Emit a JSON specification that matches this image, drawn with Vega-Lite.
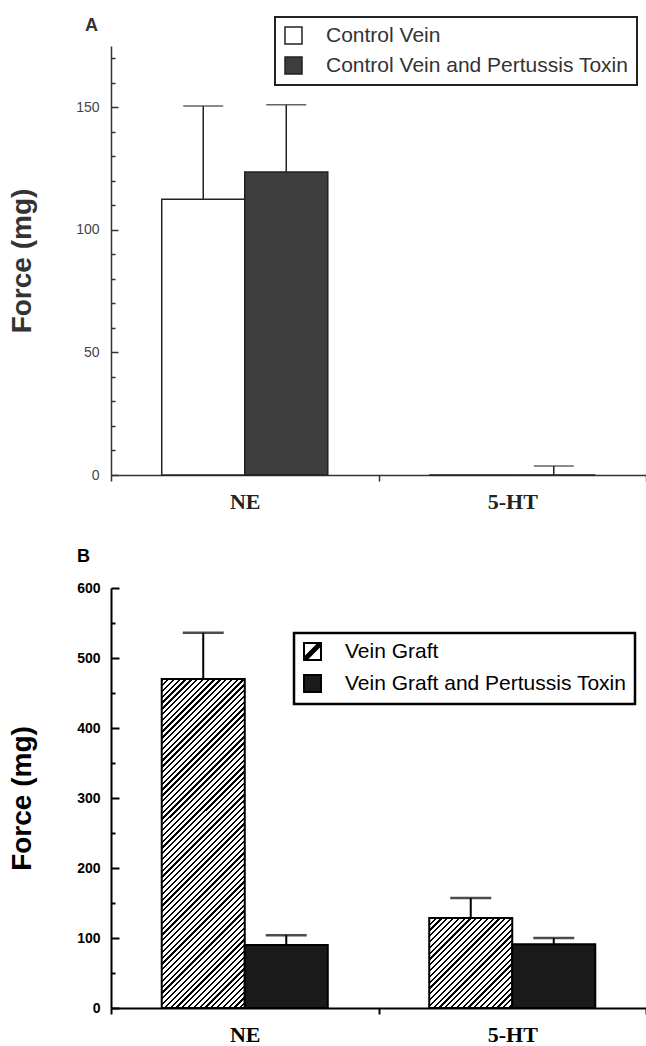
{
"$schema":"https://vega.github.io/schema/vega-lite/v6.json",
"padding":{"left":8,"top":16,"right":0,"bottom":0},
"spacing":36,
"config":{"view":{"stroke":null},"font":"Liberation Sans","axis":{"grid":false,"labelOverlap":false}},
"resolve":{"scale":{"fill":"independent","xOffset":"independent"},"legend":{"fill":"independent"}},
"vconcat":[
{
"width":535,"height":429,
"title":{"text":"A","anchor":"start","frame":"group","dx":-26,"offset":-33,"baseline":"alphabetic","font":"Liberation Sans","fontSize":18,"fontWeight":"bold","color":"#333"},
"data":{"values":[
{"agent":"NE","group":"Control Vein","force":112.5,"upper":150.5},
{"agent":"NE","group":"Control Vein and Pertussis Toxin","force":123.6,"upper":151},
{"agent":"5-HT","group":"Control Vein","force":0,"upper":null},
{"agent":"5-HT","group":"Control Vein and Pertussis Toxin","force":0,"upper":3.7}
]},
"encoding":{
"x":{"field":"agent","type":"nominal","scale":{"domain":["NE","5-HT"],"paddingInner":0,"paddingOuter":0},
"axis":{"title":null,"labelAngle":0,"labelFont":"Liberation Serif","labelFontSize":22,"labelFontWeight":"bold","labelColor":"#222","labelPadding":10,"tickBand":"extent","tickSize":6,"tickColor":"#333","tickWidth":1.5,"domainColor":"#333","domainWidth":1.5}},
"xOffset":{"field":"group","type":"nominal","scale":{"domain":["Control Vein","Control Vein and Pertussis Toxin"],"paddingInner":0,"paddingOuter":0.611}}
},
"layer":[
{"mark":{"type":"bar","stroke":"#222","strokeWidth":1.5},
"encoding":{
"y":{"field":"force","type":"quantitative","title":"Force (mg)","scale":{"domain":[0,175],"nice":false},
"axis":{"values":[0,10,20,30,40,50,60,70,80,90,100,110,120,130,140,150,160,170],"tickCount":100,"labelOverlap":false,"labelOpacity":{"condition":{"test":"datum.value % 50 !== 0","value":0},"value":1},"tickSize":{"condition":{"test":"datum.value % 50 === 0","value":-7},"value":-4},"labelPadding":19,"labelFont":"Liberation Sans","labelFontSize":14,"labelColor":"#444","tickColor":"#333","tickWidth":1.5,"domainColor":"#333","domainWidth":1.5,"titleFont":"Liberation Sans","titleFontSize":28,"titleFontWeight":"bold","titleColor":"#333","titleX":-89,"titleBaseline":"middle"}},
"fill":{"field":"group","type":"nominal","scale":{"domain":["Control Vein","Control Vein and Pertussis Toxin"],"range":["#ffffff","#3d3d3d"]},
"legend":{"title":null,"orient":"none","legendX":164,"legendY":-29,"direction":"vertical","symbolType":"square","symbolSize":289,"symbolStrokeColor":"#222","symbolStrokeWidth":1.5,"labelFont":"Liberation Sans","labelFontSize":21,"labelColor":"#333","labelOffset":22,"labelLimit":400,"padding":8,"rowPadding":7,"strokeColor":"#222","fillColor":"#ffffff","encode":{"legend":{"update":{"strokeWidth":{"value":2}}}}}}
}},
{"transform":[{"filter":"datum.upper != null"}],"mark":{"type":"rule","stroke":"#222","strokeWidth":1.5},
"encoding":{"y":{"field":"force","type":"quantitative","title":"Force (mg)"},"y2":{"field":"upper"}}},
{"transform":[{"filter":"datum.upper != null"}],"mark":{"type":"tick","color":"#222","thickness":1.5,"size":40},
"encoding":{"y":{"field":"upper","type":"quantitative","title":"Force (mg)"}}}
]
},
{
"width":535,"height":420,
"title":{"text":"B","anchor":"start","frame":"group","dx":-34,"offset":1,"baseline":"alphabetic","font":"Liberation Sans","fontSize":18,"fontWeight":"bold","color":"#000"},
"data":{"values":[
{"agent":"NE","group":"Vein Graft","force":470,"upper":536},
{"agent":"NE","group":"Vein Graft and Pertussis Toxin","force":90,"upper":104},
{"agent":"5-HT","group":"Vein Graft","force":128.5,"upper":157},
{"agent":"5-HT","group":"Vein Graft and Pertussis Toxin","force":91,"upper":100}
]},
"encoding":{
"x":{"field":"agent","type":"nominal","scale":{"domain":["NE","5-HT"],"paddingInner":0,"paddingOuter":0},
"axis":{"title":null,"labelAngle":0,"labelFont":"Liberation Serif","labelFontSize":22,"labelFontWeight":"bold","labelColor":"#000","labelPadding":10,"tickBand":"extent","tickSize":6,"tickColor":"#000","tickWidth":2,"domainColor":"#000","domainWidth":2}},
"xOffset":{"field":"group","type":"nominal","scale":{"domain":["Vein Graft","Vein Graft and Pertussis Toxin"],"paddingInner":0,"paddingOuter":0.611}}
},
"layer":[
{"mark":{"type":"bar","stroke":"#000","strokeWidth":2},
"encoding":{
"y":{"field":"force","type":"quantitative","title":"Force (mg)","scale":{"domain":[0,600],"nice":false},
"axis":{"values":[0,50,100,150,200,250,300,350,400,450,500,550,600],"tickCount":100,"labelOverlap":false,"labelOpacity":{"condition":{"test":"datum.value % 100 !== 0","value":0},"value":1},"tickSize":{"condition":{"test":"datum.value % 100 === 0","value":-8},"value":-4},"labelPadding":19,"labelFont":"Liberation Sans","labelFontSize":14,"labelFontWeight":"bold","labelColor":"#000","tickColor":"#000","tickWidth":2,"domainColor":"#000","domainWidth":2,"titleFont":"Liberation Sans","titleFontSize":28,"titleFontWeight":"bold","titleColor":"#000","titleX":-89,"titleBaseline":"middle"}},
"fill":{"field":"group","type":"nominal","scale":{"domain":["Vein Graft","Vein Graft and Pertussis Toxin"],"range":["#ffffff","#1a1a1a"]},
"condition":[
{"test":"datum.agent === 'NE' && datum.group === 'Vein Graft'","value":{"gradient":"linear","x1":0,"y1":0,"x2":0.3344,"y2":1.3255,"stops":[
{"offset":0,"color":"#000"},{"offset":0.005,"color":"#000"},{"offset":0.005,"color":"#fff"},{"offset":0.0125,"color":"#fff"},
{"offset":0.0125,"color":"#000"},{"offset":0.0175,"color":"#000"},{"offset":0.0175,"color":"#fff"},{"offset":0.025,"color":"#fff"},
{"offset":0.025,"color":"#000"},{"offset":0.03,"color":"#000"},{"offset":0.03,"color":"#fff"},{"offset":0.0375,"color":"#fff"},
{"offset":0.0375,"color":"#000"},{"offset":0.0425,"color":"#000"},{"offset":0.0425,"color":"#fff"},{"offset":0.05,"color":"#fff"},
{"offset":0.05,"color":"#000"},{"offset":0.055,"color":"#000"},{"offset":0.055,"color":"#fff"},{"offset":0.0625,"color":"#fff"},
{"offset":0.0625,"color":"#000"},{"offset":0.0675,"color":"#000"},{"offset":0.0675,"color":"#fff"},{"offset":0.075,"color":"#fff"},
{"offset":0.075,"color":"#000"},{"offset":0.08,"color":"#000"},{"offset":0.08,"color":"#fff"},{"offset":0.0875,"color":"#fff"},
{"offset":0.0875,"color":"#000"},{"offset":0.0925,"color":"#000"},{"offset":0.0925,"color":"#fff"},{"offset":0.1,"color":"#fff"},
{"offset":0.1,"color":"#000"},{"offset":0.105,"color":"#000"},{"offset":0.105,"color":"#fff"},{"offset":0.1125,"color":"#fff"},
{"offset":0.1125,"color":"#000"},{"offset":0.1175,"color":"#000"},{"offset":0.1175,"color":"#fff"},{"offset":0.125,"color":"#fff"},
{"offset":0.125,"color":"#000"},{"offset":0.13,"color":"#000"},{"offset":0.13,"color":"#fff"},{"offset":0.1375,"color":"#fff"},
{"offset":0.1375,"color":"#000"},{"offset":0.1425,"color":"#000"},{"offset":0.1425,"color":"#fff"},{"offset":0.15,"color":"#fff"},
{"offset":0.15,"color":"#000"},{"offset":0.155,"color":"#000"},{"offset":0.155,"color":"#fff"},{"offset":0.1625,"color":"#fff"},
{"offset":0.1625,"color":"#000"},{"offset":0.1675,"color":"#000"},{"offset":0.1675,"color":"#fff"},{"offset":0.175,"color":"#fff"},
{"offset":0.175,"color":"#000"},{"offset":0.18,"color":"#000"},{"offset":0.18,"color":"#fff"},{"offset":0.1875,"color":"#fff"},
{"offset":0.1875,"color":"#000"},{"offset":0.1925,"color":"#000"},{"offset":0.1925,"color":"#fff"},{"offset":0.2,"color":"#fff"},
{"offset":0.2,"color":"#000"},{"offset":0.205,"color":"#000"},{"offset":0.205,"color":"#fff"},{"offset":0.2125,"color":"#fff"},
{"offset":0.2125,"color":"#000"},{"offset":0.2175,"color":"#000"},{"offset":0.2175,"color":"#fff"},{"offset":0.225,"color":"#fff"},
{"offset":0.225,"color":"#000"},{"offset":0.23,"color":"#000"},{"offset":0.23,"color":"#fff"},{"offset":0.2375,"color":"#fff"},
{"offset":0.2375,"color":"#000"},{"offset":0.2425,"color":"#000"},{"offset":0.2425,"color":"#fff"},{"offset":0.25,"color":"#fff"},
{"offset":0.25,"color":"#000"},{"offset":0.255,"color":"#000"},{"offset":0.255,"color":"#fff"},{"offset":0.2625,"color":"#fff"},
{"offset":0.2625,"color":"#000"},{"offset":0.2675,"color":"#000"},{"offset":0.2675,"color":"#fff"},{"offset":0.275,"color":"#fff"},
{"offset":0.275,"color":"#000"},{"offset":0.28,"color":"#000"},{"offset":0.28,"color":"#fff"},{"offset":0.2875,"color":"#fff"},
{"offset":0.2875,"color":"#000"},{"offset":0.2925,"color":"#000"},{"offset":0.2925,"color":"#fff"},{"offset":0.3,"color":"#fff"},
{"offset":0.3,"color":"#000"},{"offset":0.305,"color":"#000"},{"offset":0.305,"color":"#fff"},{"offset":0.3125,"color":"#fff"},
{"offset":0.3125,"color":"#000"},{"offset":0.3175,"color":"#000"},{"offset":0.3175,"color":"#fff"},{"offset":0.325,"color":"#fff"},
{"offset":0.325,"color":"#000"},{"offset":0.33,"color":"#000"},{"offset":0.33,"color":"#fff"},{"offset":0.3375,"color":"#fff"},
{"offset":0.3375,"color":"#000"},{"offset":0.3425,"color":"#000"},{"offset":0.3425,"color":"#fff"},{"offset":0.35,"color":"#fff"},
{"offset":0.35,"color":"#000"},{"offset":0.355,"color":"#000"},{"offset":0.355,"color":"#fff"},{"offset":0.3625,"color":"#fff"},
{"offset":0.3625,"color":"#000"},{"offset":0.3675,"color":"#000"},{"offset":0.3675,"color":"#fff"},{"offset":0.375,"color":"#fff"},
{"offset":0.375,"color":"#000"},{"offset":0.38,"color":"#000"},{"offset":0.38,"color":"#fff"},{"offset":0.3875,"color":"#fff"},
{"offset":0.3875,"color":"#000"},{"offset":0.3925,"color":"#000"},{"offset":0.3925,"color":"#fff"},{"offset":0.4,"color":"#fff"},
{"offset":0.4,"color":"#000"},{"offset":0.405,"color":"#000"},{"offset":0.405,"color":"#fff"},{"offset":0.4125,"color":"#fff"},
{"offset":0.4125,"color":"#000"},{"offset":0.4175,"color":"#000"},{"offset":0.4175,"color":"#fff"},{"offset":0.425,"color":"#fff"},
{"offset":0.425,"color":"#000"},{"offset":0.43,"color":"#000"},{"offset":0.43,"color":"#fff"},{"offset":0.4375,"color":"#fff"},
{"offset":0.4375,"color":"#000"},{"offset":0.4425,"color":"#000"},{"offset":0.4425,"color":"#fff"},{"offset":0.45,"color":"#fff"},
{"offset":0.45,"color":"#000"},{"offset":0.455,"color":"#000"},{"offset":0.455,"color":"#fff"},{"offset":0.4625,"color":"#fff"},
{"offset":0.4625,"color":"#000"},{"offset":0.4675,"color":"#000"},{"offset":0.4675,"color":"#fff"},{"offset":0.475,"color":"#fff"},
{"offset":0.475,"color":"#000"},{"offset":0.48,"color":"#000"},{"offset":0.48,"color":"#fff"},{"offset":0.4875,"color":"#fff"},
{"offset":0.4875,"color":"#000"},{"offset":0.4925,"color":"#000"},{"offset":0.4925,"color":"#fff"},{"offset":0.5,"color":"#fff"},
{"offset":0.5,"color":"#000"},{"offset":0.505,"color":"#000"},{"offset":0.505,"color":"#fff"},{"offset":0.5125,"color":"#fff"},
{"offset":0.5125,"color":"#000"},{"offset":0.5175,"color":"#000"},{"offset":0.5175,"color":"#fff"},{"offset":0.525,"color":"#fff"},
{"offset":0.525,"color":"#000"},{"offset":0.53,"color":"#000"},{"offset":0.53,"color":"#fff"},{"offset":0.5375,"color":"#fff"},
{"offset":0.5375,"color":"#000"},{"offset":0.5425,"color":"#000"},{"offset":0.5425,"color":"#fff"},{"offset":0.55,"color":"#fff"},
{"offset":0.55,"color":"#000"},{"offset":0.555,"color":"#000"},{"offset":0.555,"color":"#fff"},{"offset":0.5625,"color":"#fff"},
{"offset":0.5625,"color":"#000"},{"offset":0.5675,"color":"#000"},{"offset":0.5675,"color":"#fff"},{"offset":0.575,"color":"#fff"},
{"offset":0.575,"color":"#000"},{"offset":0.58,"color":"#000"},{"offset":0.58,"color":"#fff"},{"offset":0.5875,"color":"#fff"},
{"offset":0.5875,"color":"#000"},{"offset":0.5925,"color":"#000"},{"offset":0.5925,"color":"#fff"},{"offset":0.6,"color":"#fff"},
{"offset":0.6,"color":"#000"},{"offset":0.605,"color":"#000"},{"offset":0.605,"color":"#fff"},{"offset":0.6125,"color":"#fff"},
{"offset":0.6125,"color":"#000"},{"offset":0.6175,"color":"#000"},{"offset":0.6175,"color":"#fff"},{"offset":0.625,"color":"#fff"},
{"offset":0.625,"color":"#000"},{"offset":0.63,"color":"#000"},{"offset":0.63,"color":"#fff"},{"offset":0.6375,"color":"#fff"},
{"offset":0.6375,"color":"#000"},{"offset":0.6425,"color":"#000"},{"offset":0.6425,"color":"#fff"},{"offset":0.65,"color":"#fff"},
{"offset":0.65,"color":"#000"},{"offset":0.655,"color":"#000"},{"offset":0.655,"color":"#fff"},{"offset":0.6625,"color":"#fff"},
{"offset":0.6625,"color":"#000"},{"offset":0.6675,"color":"#000"},{"offset":0.6675,"color":"#fff"},{"offset":0.675,"color":"#fff"},
{"offset":0.675,"color":"#000"},{"offset":0.68,"color":"#000"},{"offset":0.68,"color":"#fff"},{"offset":0.6875,"color":"#fff"},
{"offset":0.6875,"color":"#000"},{"offset":0.6925,"color":"#000"},{"offset":0.6925,"color":"#fff"},{"offset":0.7,"color":"#fff"},
{"offset":0.7,"color":"#000"},{"offset":0.705,"color":"#000"},{"offset":0.705,"color":"#fff"},{"offset":0.7125,"color":"#fff"},
{"offset":0.7125,"color":"#000"},{"offset":0.7175,"color":"#000"},{"offset":0.7175,"color":"#fff"},{"offset":0.725,"color":"#fff"},
{"offset":0.725,"color":"#000"},{"offset":0.73,"color":"#000"},{"offset":0.73,"color":"#fff"},{"offset":0.7375,"color":"#fff"},
{"offset":0.7375,"color":"#000"},{"offset":0.7425,"color":"#000"},{"offset":0.7425,"color":"#fff"},{"offset":0.75,"color":"#fff"},
{"offset":0.75,"color":"#000"},{"offset":0.755,"color":"#000"},{"offset":0.755,"color":"#fff"},{"offset":0.7625,"color":"#fff"},
{"offset":0.7625,"color":"#000"},{"offset":0.7675,"color":"#000"},{"offset":0.7675,"color":"#fff"},{"offset":0.775,"color":"#fff"},
{"offset":0.775,"color":"#000"},{"offset":0.78,"color":"#000"},{"offset":0.78,"color":"#fff"},{"offset":0.7875,"color":"#fff"},
{"offset":0.7875,"color":"#000"},{"offset":0.7925,"color":"#000"},{"offset":0.7925,"color":"#fff"},{"offset":0.8,"color":"#fff"},
{"offset":0.8,"color":"#000"},{"offset":0.805,"color":"#000"},{"offset":0.805,"color":"#fff"},{"offset":0.8125,"color":"#fff"},
{"offset":0.8125,"color":"#000"},{"offset":0.8175,"color":"#000"},{"offset":0.8175,"color":"#fff"},{"offset":0.825,"color":"#fff"},
{"offset":0.825,"color":"#000"},{"offset":0.83,"color":"#000"},{"offset":0.83,"color":"#fff"},{"offset":0.8375,"color":"#fff"},
{"offset":0.8375,"color":"#000"},{"offset":0.8425,"color":"#000"},{"offset":0.8425,"color":"#fff"},{"offset":0.85,"color":"#fff"},
{"offset":0.85,"color":"#000"},{"offset":0.855,"color":"#000"},{"offset":0.855,"color":"#fff"},{"offset":0.8625,"color":"#fff"},
{"offset":0.8625,"color":"#000"},{"offset":0.8675,"color":"#000"},{"offset":0.8675,"color":"#fff"},{"offset":0.875,"color":"#fff"},
{"offset":0.875,"color":"#000"},{"offset":0.88,"color":"#000"},{"offset":0.88,"color":"#fff"},{"offset":0.8875,"color":"#fff"},
{"offset":0.8875,"color":"#000"},{"offset":0.8925,"color":"#000"},{"offset":0.8925,"color":"#fff"},{"offset":0.9,"color":"#fff"}
]}},
{"test":"datum.agent === '5-HT' && datum.group === 'Vein Graft'","value":{"gradient":"linear","x1":0,"y1":0,"x2":1.2843,"y2":1.3926,"stops":[
{"offset":0,"color":"#000"},{"offset":0.01,"color":"#000"},{"offset":0.01,"color":"#fff"},{"offset":0.025,"color":"#fff"},
{"offset":0.025,"color":"#000"},{"offset":0.035,"color":"#000"},{"offset":0.035,"color":"#fff"},{"offset":0.05,"color":"#fff"},
{"offset":0.05,"color":"#000"},{"offset":0.06,"color":"#000"},{"offset":0.06,"color":"#fff"},{"offset":0.075,"color":"#fff"},
{"offset":0.075,"color":"#000"},{"offset":0.085,"color":"#000"},{"offset":0.085,"color":"#fff"},{"offset":0.1,"color":"#fff"},
{"offset":0.1,"color":"#000"},{"offset":0.11,"color":"#000"},{"offset":0.11,"color":"#fff"},{"offset":0.125,"color":"#fff"},
{"offset":0.125,"color":"#000"},{"offset":0.135,"color":"#000"},{"offset":0.135,"color":"#fff"},{"offset":0.15,"color":"#fff"},
{"offset":0.15,"color":"#000"},{"offset":0.16,"color":"#000"},{"offset":0.16,"color":"#fff"},{"offset":0.175,"color":"#fff"},
{"offset":0.175,"color":"#000"},{"offset":0.185,"color":"#000"},{"offset":0.185,"color":"#fff"},{"offset":0.2,"color":"#fff"},
{"offset":0.2,"color":"#000"},{"offset":0.21,"color":"#000"},{"offset":0.21,"color":"#fff"},{"offset":0.225,"color":"#fff"},
{"offset":0.225,"color":"#000"},{"offset":0.235,"color":"#000"},{"offset":0.235,"color":"#fff"},{"offset":0.25,"color":"#fff"},
{"offset":0.25,"color":"#000"},{"offset":0.26,"color":"#000"},{"offset":0.26,"color":"#fff"},{"offset":0.275,"color":"#fff"},
{"offset":0.275,"color":"#000"},{"offset":0.285,"color":"#000"},{"offset":0.285,"color":"#fff"},{"offset":0.3,"color":"#fff"},
{"offset":0.3,"color":"#000"},{"offset":0.31,"color":"#000"},{"offset":0.31,"color":"#fff"},{"offset":0.325,"color":"#fff"},
{"offset":0.325,"color":"#000"},{"offset":0.335,"color":"#000"},{"offset":0.335,"color":"#fff"},{"offset":0.35,"color":"#fff"},
{"offset":0.35,"color":"#000"},{"offset":0.36,"color":"#000"},{"offset":0.36,"color":"#fff"},{"offset":0.375,"color":"#fff"},
{"offset":0.375,"color":"#000"},{"offset":0.385,"color":"#000"},{"offset":0.385,"color":"#fff"},{"offset":0.4,"color":"#fff"},
{"offset":0.4,"color":"#000"},{"offset":0.41,"color":"#000"},{"offset":0.41,"color":"#fff"},{"offset":0.425,"color":"#fff"},
{"offset":0.425,"color":"#000"},{"offset":0.435,"color":"#000"},{"offset":0.435,"color":"#fff"},{"offset":0.45,"color":"#fff"},
{"offset":0.45,"color":"#000"},{"offset":0.46,"color":"#000"},{"offset":0.46,"color":"#fff"},{"offset":0.475,"color":"#fff"},
{"offset":0.475,"color":"#000"},{"offset":0.485,"color":"#000"},{"offset":0.485,"color":"#fff"},{"offset":0.5,"color":"#fff"},
{"offset":0.5,"color":"#000"},{"offset":0.51,"color":"#000"},{"offset":0.51,"color":"#fff"},{"offset":0.525,"color":"#fff"},
{"offset":0.525,"color":"#000"},{"offset":0.535,"color":"#000"},{"offset":0.535,"color":"#fff"},{"offset":0.55,"color":"#fff"},
{"offset":0.55,"color":"#000"},{"offset":0.56,"color":"#000"},{"offset":0.56,"color":"#fff"},{"offset":0.575,"color":"#fff"},
{"offset":0.575,"color":"#000"},{"offset":0.585,"color":"#000"},{"offset":0.585,"color":"#fff"},{"offset":0.6,"color":"#fff"},
{"offset":0.6,"color":"#000"},{"offset":0.61,"color":"#000"},{"offset":0.61,"color":"#fff"},{"offset":0.625,"color":"#fff"},
{"offset":0.625,"color":"#000"},{"offset":0.635,"color":"#000"},{"offset":0.635,"color":"#fff"},{"offset":0.65,"color":"#fff"},
{"offset":0.65,"color":"#000"},{"offset":0.66,"color":"#000"},{"offset":0.66,"color":"#fff"},{"offset":0.675,"color":"#fff"},
{"offset":0.675,"color":"#000"},{"offset":0.685,"color":"#000"},{"offset":0.685,"color":"#fff"},{"offset":0.7,"color":"#fff"},
{"offset":0.7,"color":"#000"},{"offset":0.71,"color":"#000"},{"offset":0.71,"color":"#fff"},{"offset":0.725,"color":"#fff"},
{"offset":0.725,"color":"#000"},{"offset":0.735,"color":"#000"},{"offset":0.735,"color":"#fff"},{"offset":0.75,"color":"#fff"}
]}}
],
"legend":{"title":null,"orient":"none","legendX":183,"legendY":45,"direction":"vertical","symbolType":"square","symbolSize":289,"symbolStrokeColor":"#000","symbolStrokeWidth":2,"labelFont":"Liberation Sans","labelFontSize":21,"labelColor":"#000","labelOffset":22,"labelLimit":400,"padding":8,"rowPadding":7,"strokeColor":"#000","fillColor":"#ffffff",
"encode":{"legend":{"update":{"strokeWidth":{"value":2.5}}},"symbols":{"update":{"shape":[{"test":"datum.value === 'Vein Graft'","value":"M-1,-1H1V1H-1Z M-1,1L1,-1 M-0.75,1L1,-0.75 M-1,0.75L0.75,-1"},{"value":"square"}],"stroke":{"value":"#000"},"strokeWidth":{"value":2}}}}}
}}},
{"transform":[{"filter":"datum.upper != null"}],"mark":{"type":"rule","stroke":"#000","strokeWidth":2},
"encoding":{"y":{"field":"force","type":"quantitative","title":"Force (mg)"},"y2":{"field":"upper"}}},
{"transform":[{"filter":"datum.upper != null"}],"mark":{"type":"tick","color":"#000","thickness":2.5,"size":41},
"encoding":{"y":{"field":"upper","type":"quantitative","title":"Force (mg)"}}}
]
}
]
}
